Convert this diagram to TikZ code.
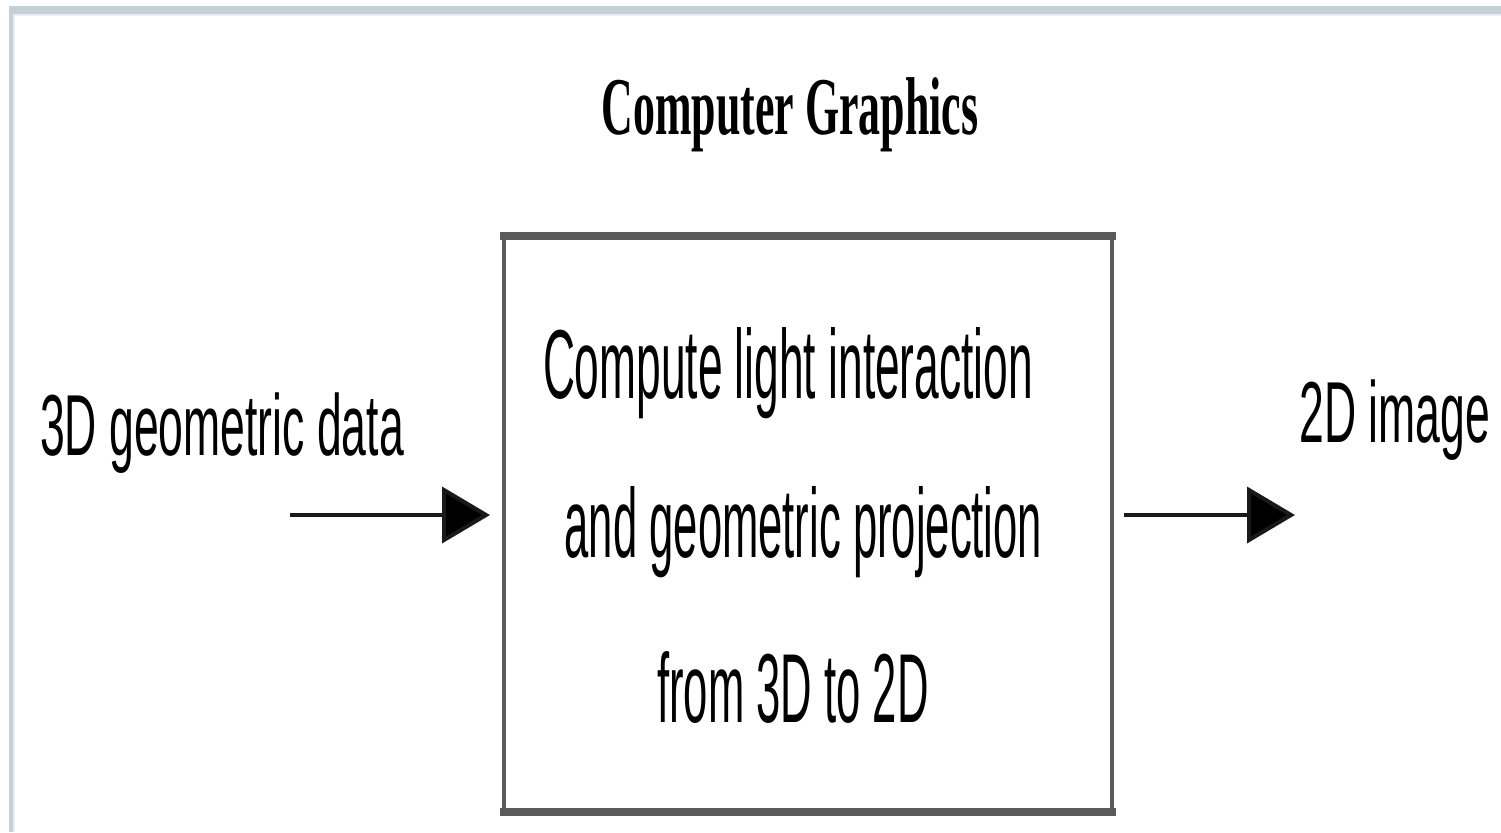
\documentclass[tikz,border=0pt]{standalone}
\usepackage{fontspec}
\usepackage{graphicx}
\setmainfont{Liberation Serif}
\newfontfamily\labelfont{Liberation Sans}
\usetikzlibrary{arrows.meta,calc}
\definecolor{framegray}{HTML}{C5D0D6}
\definecolor{boxgray}{HTML}{5A5A5A}
% horizontally condensed text
\newcommand\narrowtext[2]{\scalebox{#1}[1]{#2}}
\begin{document}
\begin{tikzpicture}[x=0.5pt,y=-0.5pt,
  titletext/.style={font=\fontsize{41}{41}\selectfont\bfseries, anchor=base, inner sep=0pt},
  iolabel/.style={font=\labelfont\fontsize{43.3}{43.3}\selectfont, anchor=base, inner sep=0pt},
  boxtext/.style={font=\labelfont\fontsize{49}{49}\selectfont, anchor=base, inner sep=0pt},
  stagebox/.style={draw=boxgray, line width=2pt, minimum width=304pt, minimum height=286pt, inner sep=0pt},
  flow/.style={line width=2pt, draw=black!90, -{Triangle[length=24pt,width=28pt,fill=black]}}]
  \useasboundingbox (0,0) rectangle (1501,832);
  % page frame
  \fill[framegray] (9,6) rectangle (1501,14);
  \fill[framegray] (9,6) rectangle (13,832);
  \fill[framegray!35] (13,14) rectangle (1501,15.5);
  \fill[framegray!35] (13,14) rectangle (14.5,832);

  % title
  \node[titletext] (title) at (790,134) {\narrowtext{0.535}{Computer Graphics}};

  % processing stage
  \node[stagebox] (box) at (808,524) {};
  \draw[boxgray, line width=4pt, shorten <=-1pt, shorten >=-1pt] (box.north west) -- (box.north east);
  \draw[boxgray, line width=4pt, shorten <=-1pt, shorten >=-1pt] (box.south west) -- (box.south east);
  \node[boxtext] (l1) at (788,398) {\narrowtext{0.452}{Compute light interaction}};
  \node[boxtext] (l2) at (803.5,557) {\narrowtext{0.445}{and geometric projection}};
  \node[boxtext] (l3) at (793,722) {\narrowtext{0.445}{from 3D to 2D}};

  % input and output
  \node[iolabel] (input) at (222,455) {\narrowtext{0.514}{3D geometric data}};
  \node[iolabel] (output) at (1395,442) {\narrowtext{0.514}{2D image}};

  \coordinate (src) at (290,515);
  \coordinate (inTip) at ($(box.west)+(-12,-9)$);
  \coordinate (outStart) at ($(box.east)+(10,-9)$);
  \coordinate (outTip) at (1295,515);
  \draw[flow] (src) -- (inTip);
  \draw[flow] (outStart) -- (outTip);
\end{tikzpicture}
\end{document}
